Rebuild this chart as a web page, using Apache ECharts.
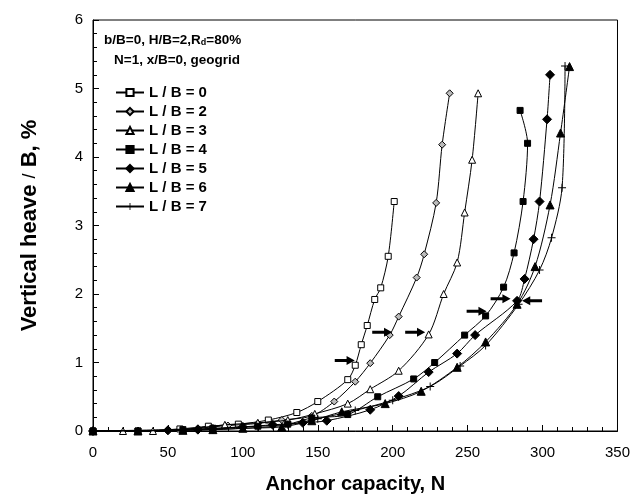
<!DOCTYPE html>
<html><head><meta charset="utf-8">
<script src="https://cdn.jsdelivr.net/npm/echarts/dist/echarts.min.js"></script>
<style>html,body{margin:0;padding:0;background:#fff}#c{width:633px;height:500px}</style>
</head><body><div id="c"></div>
<script>
// ---- data: [anchor capacity N, vertical heave/B %]
const seriesNames = ['L / B = 0','L / B = 2','L / B = 3','L / B = 4','L / B = 5','L / B = 6','L / B = 7'];
const lb0 = [[0,0],[30,0.0],[58,0.03],[77,0.07],[97,0.1],[117,0.16],[136,0.27],[150,0.43],[170,0.75],[175,0.96],[179,1.26],[183,1.54],[188,1.92],[192,2.09],[197,2.55],[201,3.35]];
const lb2 = [[0,0],[50,0.02],[70,0.04],[90,0.08],[110,0.11],[126,0.16],[146,0.22],[161,0.43],[175,0.72],[185,0.99],[198,1.4],[204,1.67],[216,2.24],[221,2.58],[229,3.33],[233,4.18],[238,4.93]];
const lb3 = [[0,0],[20,0],[40,0],[60,0.02],[88,0.09],[110,0.12],[130,0.16],[148,0.25],[170,0.4],[185,0.61],[204,0.88],[224,1.41],[234,2.0],[243,2.46],[248,3.19],[253,3.96],[257,4.93]];
const lb4 = [[0,0],[30,0],[60,0.02],[80,0.04],[110,0.07],[130,0.1],[146,0.19],[170,0.24],[190,0.5],[214,0.76],[228,1.0],[248,1.4],[262,1.68],[274,2.1],[281,2.6],[287,3.35],[290,4.2],[285,4.68]];
const lb5 = [[0,0],[50,0.01],[70,0.02],[80,0.03],[100,0.06],[120,0.09],[140,0.12],[156,0.15],[185,0.31],[204,0.51],[224,0.86],[243,1.13],[255,1.4],[283,1.9],[288,2.22],[294,2.8],[298,3.35],[303,4.55],[305,5.2]];
const lb6 = [[0,0],[30,0],[60,0.01],[80,0.02],[100,0.04],[126,0.06],[146,0.15],[166,0.28],[195,0.4],[219,0.58],[243,0.93],[262,1.3],[283,1.85],[295,2.4],[305,3.3],[312,4.35],[318,5.32]];
const lb7 = [[0,0],[50,0.01],[80,0.02],[110,0.05],[130,0.09],[150,0.18],[175,0.3],[200,0.45],[225,0.65],[245,0.95],[262,1.25],[284,1.85],[298,2.35],[306,2.82],[313,3.55],[315,5.33]];
// arrow marker positions (centre of arrow), pointing right / left
const arrowsRight = [[168,1.03],[193,1.44],[215,1.44],[256,1.75],[272,1.93]];
const arrowsLeft = [[293,1.9]];
const titleLines = ['b/B=0, H/B=2,R{s|d}=80%','N=1, x/B=0, geogrid'];
const xName = 'Anchor capacity, N';
const yName = 'Vertical heave {n|/} B, %';

const FONT = '"Liberation Sans", Arial, sans-serif';
const plus = 'path://M4.4,0h1.2v10h-1.2z M0,4.4h10v1.2h-10z';
const arrowR = 'path://M0,4 L13,4 L13,0 L22,6 L13,12 L13,8 L0,8 Z';
const symbols = [
  {symbol:'rect', size:6, fill:'#fff'},
  {symbol:'diamond', size:7, fill:'#bbb'},
  {symbol:'triangle', size:7, fill:'#fff'},
  {symbol:'rect', size:6, fill:'#000'},
  {symbol:'diamond', size:9, fill:'#000'},
  {symbol:'triangle', size:8, fill:'#000'},
  {symbol:plus, size:8, fill:'#000'}
];
const datas = [lb0, lb2, lb3, lb4, lb5, lb6, lb7];

const series = datas.map((d,i)=>({
  name: seriesNames[i], type:'line', data:d, smooth:0.3,
  symbol: symbols[i].symbol, symbolSize: symbols[i].size, showAllSymbol:true,
  lineStyle:{color:'#000', width:1},
  itemStyle:{color: symbols[i].fill, borderColor:'#000', borderWidth: i===6?0:1, opacity:1},
  animation:false, z: 2+i
}));
series.push({type:'scatter', name:'arR', data:arrowsRight, symbol:arrowR, symbolSize:[20,9],
  itemStyle:{color:'#000', opacity:1}, animation:false, silent:true, z:20});
series.push({type:'scatter', name:'arL', data:arrowsLeft, symbol:arrowR, symbolSize:[20,9], symbolRotate:180,
  itemStyle:{color:'#000', opacity:1}, animation:false, silent:true, z:20});

const chart = echarts.init(document.getElementById('c'), null, {renderer:'canvas'});
chart.setOption({
  backgroundColor:'#fff',
  animation:false,
  grid:{left:93, top:20, right:12, bottom:69, show:true, borderColor:'#000', borderWidth:1, backgroundColor:'transparent'},
  xAxis:{type:'value', min:0, max:350, interval:50,
    name:xName, nameLocation:'middle', nameGap:43,
    nameTextStyle:{fontFamily:FONT, fontWeight:'bold', fontSize:20, color:'#000'},
    axisLine:{lineStyle:{color:'#000', width:1}},
    axisTick:{inside:true, length:6, lineStyle:{color:'#000'}},
    minorTick:{show:true, splitNumber:5, length:4, lineStyle:{color:'#000'}},
    axisLabel:{fontFamily:FONT, fontSize:15, color:'#000', margin:14},
    splitLine:{show:false}},
  yAxis:{type:'value', min:0, max:6, interval:1,
    name:yName, nameLocation:'middle', nameGap:52,
    nameTextStyle:{fontFamily:FONT, fontWeight:'bold', fontSize:22, color:'#000',
      rich:{n:{fontFamily:FONT, fontWeight:'normal', fontSize:18, color:'#000'}}},
    axisLine:{show:true, lineStyle:{color:'#000', width:1}},
    axisTick:{inside:true, length:6, lineStyle:{color:'#000'}},
    minorTick:{show:true, splitNumber:5, length:4, lineStyle:{color:'#000'}},
    axisLabel:{fontFamily:FONT, fontSize:15, color:'#000', margin:10},
    splitLine:{show:false}},
  legend:{data:seriesNames, orient:'vertical', left:110, top:80, itemWidth:28, itemHeight:9, itemGap:4,
    textStyle:{fontFamily:FONT, fontWeight:'bold', fontSize:15, color:'#000'}},
  graphic:[
    {type:'text', left:104, top:33, style:{text:titleLines[0], font:'bold 13.5px '+FONT, fill:'#000',
      rich:{s:{font:'bold 9px '+FONT, fill:'#000', padding:[6,0,0,0]}}}},
    {type:'text', left:114, top:53, style:{text:titleLines[1], font:'bold 13.5px '+FONT, fill:'#000'}}
  ],
  series: series
});
</script>
</body></html>
